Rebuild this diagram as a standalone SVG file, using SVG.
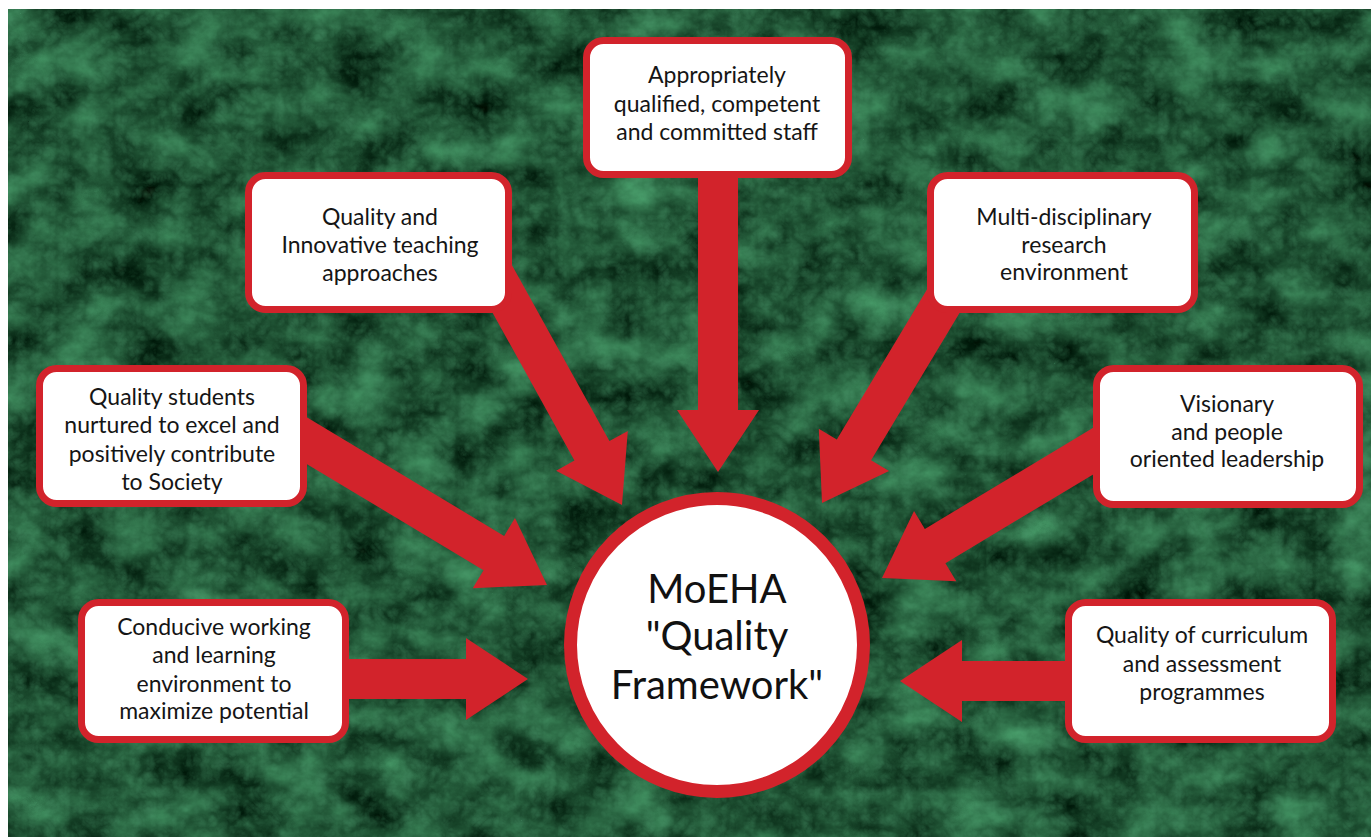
<svg xmlns="http://www.w3.org/2000/svg" width="1371" height="837" viewBox="0 0 1371 837">
  <defs>
    <!-- dark green marble texture -->
    <filter id="marble" x="0" y="0" width="100%" height="100%" color-interpolation-filters="sRGB">
      <feTurbulence type="fractalNoise" baseFrequency="0.018 0.024" numOctaves="5" seed="11" result="noise"/>
      <feColorMatrix in="noise" type="matrix"
        values="0.36 0 0 0 -0.06
                0.66 0 0 0 -0.01
                0.48 0 0 0 -0.04
                0 0 0 0 1" result="base"/>
      <feTurbulence type="turbulence" baseFrequency="0.07" numOctaves="3" seed="3" result="grain"/>
      <feColorMatrix in="grain" type="matrix"
        values="0 0 0 0 0.30
                0 0 0 0 0.60
                0 0 0 0 0.43
                0.60 0 0 0 -0.10" result="veins"/>
      <feComposite in="veins" in2="base" operator="over"/>
    </filter>
    <path id="arrow" d="M-300,-20 H-62 V-41 L0,0 L-62,41 V20 H-300 Z"/>
  </defs>
  <style>
    .box { fill: #ffffff; stroke: #d2232b; stroke-width: 7; }
    .arr { fill: #d2232b; }
    .lbl { font-family: Lato, "Open Sans", sans-serif; font-size: 23px; fill: #151515; text-anchor: middle; }
    .hub { font-family: Lato, "Open Sans", sans-serif; font-size: 40px; fill: #111111; text-anchor: middle; }
  </style>

  <rect x="0" y="0" width="1371" height="837" fill="#ffffff"/>
  <rect x="8" y="9" width="1363" height="828" fill="#1d5a34" filter="url(#marble)"/>

  <!-- block arrows pointing at the hub -->
  <g id="connectors">
    <use href="#arrow" class="arr" transform="translate(718,472) rotate(90)"/>
    <use href="#arrow" class="arr" transform="translate(622,505) rotate(61)"/>
    <use href="#arrow" class="arr" transform="translate(822,503) rotate(121)"/>
    <use href="#arrow" class="arr" transform="translate(547,585) rotate(31)"/>
    <use href="#arrow" class="arr" transform="translate(882,578) rotate(149)"/>
    <use href="#arrow" class="arr" transform="translate(528,679) rotate(0)"/>
    <use href="#arrow" class="arr" transform="translate(900,681) rotate(180)"/>
  </g>

  <g id="hub">
    <circle cx="717" cy="645" r="146.5" fill="#ffffff" stroke="#d2232b" stroke-width="13"/>
    <text class="hub" x="717" y="603">MoEHA</text>
    <text class="hub" x="717" y="650">"Quality</text>
    <text class="hub" x="717" y="699">Framework"</text>
  </g>

  <g id="node-staff">
    <rect class="box" x="586.5" y="40.5" width="262" height="134" rx="17"/>
    <text class="lbl" x="717" y="83">Appropriately</text>
    <text class="lbl" x="717" y="112">qualified, competent</text>
    <text class="lbl" x="717" y="140">and committed staff</text>
  </g>

  <g id="node-teaching">
    <rect class="box" x="248.5" y="175.5" width="260" height="134" rx="17"/>
    <text class="lbl" x="380" y="225">Quality and</text>
    <text class="lbl" x="380" y="253">Innovative teaching</text>
    <text class="lbl" x="380" y="281">approaches</text>
  </g>

  <g id="node-research">
    <rect class="box" x="930.5" y="175.5" width="264" height="134" rx="17"/>
    <text class="lbl" x="1064" y="225">Multi-disciplinary</text>
    <text class="lbl" x="1064" y="253">research</text>
    <text class="lbl" x="1064" y="280">environment</text>
  </g>

  <g id="node-students">
    <rect class="box" x="39.5" y="368.5" width="264" height="135" rx="17"/>
    <text class="lbl" x="172" y="405">Quality students</text>
    <text class="lbl" x="172" y="433">nurtured to excel and</text>
    <text class="lbl" x="172" y="462">positively contribute</text>
    <text class="lbl" x="172" y="490">to Society</text>
  </g>

  <g id="node-leadership">
    <rect class="box" x="1096.5" y="368.5" width="263" height="136" rx="17"/>
    <text class="lbl" x="1227" y="412">Visionary</text>
    <text class="lbl" x="1227" y="440">and people</text>
    <text class="lbl" x="1227" y="467">oriented leadership</text>
  </g>

  <g id="node-environment">
    <rect class="box" x="81.5" y="602.5" width="264" height="137" rx="17"/>
    <text class="lbl" x="214" y="635">Conducive working</text>
    <text class="lbl" x="214" y="663">and learning</text>
    <text class="lbl" x="214" y="692">environment to</text>
    <text class="lbl" x="214" y="719">maximize potential</text>
  </g>

  <g id="node-curriculum">
    <rect class="box" x="1068.5" y="602.5" width="264" height="137" rx="17"/>
    <text class="lbl" x="1202" y="643">Quality of curriculum</text>
    <text class="lbl" x="1202" y="672">and assessment</text>
    <text class="lbl" x="1202" y="700">programmes</text>
  </g>
</svg>
